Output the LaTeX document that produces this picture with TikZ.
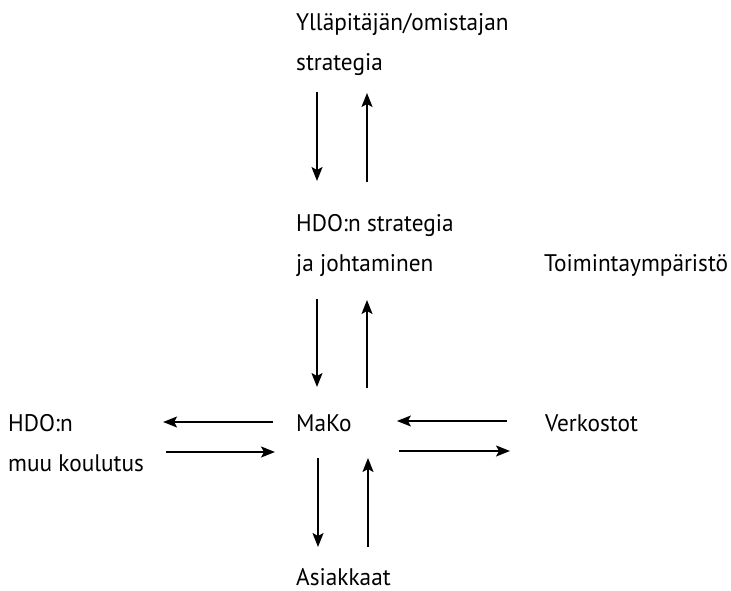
\documentclass[tikz,border=0pt]{standalone}
\usepackage{fontspec}
\setmainfont{PT Sans}[FakeStretch=0.97]
\usetikzlibrary{arrows.meta,calc}

\tikzset{
  lbl/.style={anchor=base west, inner sep=0pt, align=left,
    font=\fontsize{24}{40}\selectfont},
  arr/.style={-{Stealth[length=14pt,width=11pt,inset=3pt]}, line width=1.3pt}
}

\begin{document}
\begin{tikzpicture}[x=1pt, y=-1pt]
				\useasboundingbox (0,0) rectangle (731,591);
				% Nodes
				\node[lbl] (ylla) at (296,71) {Ylläpitäjän/omistajan\\strategia};
				\node[lbl] (hdostrat) at (296,271) {HDO:n strategia\\ja johtaminen};
				\node[lbl] (toiminta) at (544,271) {Toimintaympäristö};
				\node[lbl] (mako) at (296,431) {MaKo};
				\node[lbl] (hdomuu) at (8,471) {HDO:n\\muu koulutus};
				\node[lbl] (verkostot) at (545,431) {Verkostot};
				\node[lbl] (asiakkaat) at (296,585) {Asiakkaat};
	
				% Arrows
				\draw[arr] ($(ylla.base west)+(21,21)$) -- ($(hdostrat.base west)+(21,-90)$);
				\draw[arr] ($(hdostrat.base west)+(71,-89)$) -- ($(ylla.base west)+(71,22)$);
				\draw[arr] ($(hdostrat.base west)+(21,28)$) -- ($(mako.base west)+(21,-44)$);
				\draw[arr] ($(mako.base west)+(71,-43)$) -- ($(hdostrat.base west)+(71,29)$);
				\draw[arr] ($(mako.base west)+(-23,-9)$) -- ($(hdomuu.east |- mako.base)+(19,-9)$);
				\draw[arr] ($(hdomuu.east |- mako.base)+(22,21)$) -- ($(mako.base west)+(-21,21)$);
				\draw[arr] ($(verkostot.base west)+(-38,-10)$) -- ($(mako.base east)+(45,-10)$);
				\draw[arr] ($(mako.base east)+(47,20)$) -- ($(verkostot.base west)+(-35,20)$);
				\draw[arr] ($(mako.base west)+(22,27)$) -- ($(asiakkaat.base west)+(22,-38)$);
				\draw[arr] ($(asiakkaat.base west)+(72,-38)$) -- ($(mako.base west)+(72,27)$);
			\end{tikzpicture}
\end{document}
